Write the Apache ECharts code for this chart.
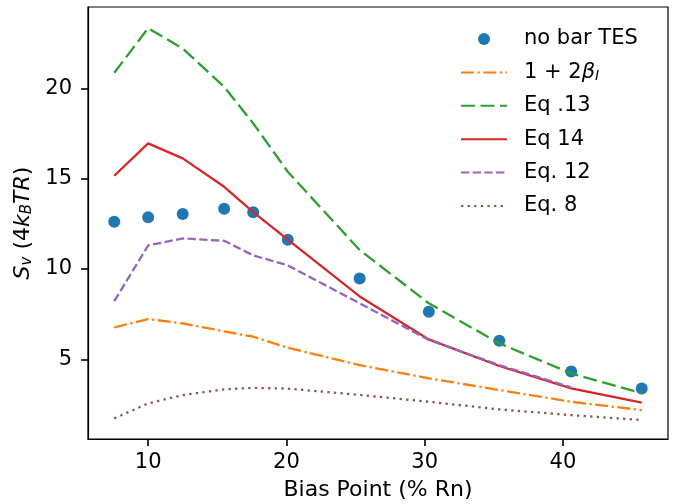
<!DOCTYPE html>
<html><head><meta charset="utf-8">
<script src="https://cdn.jsdelivr.net/npm/echarts@6/dist/echarts.min.js"></script>
<style>html,body{margin:0;padding:0;background:#fff}#c{width:678px;height:504px}</style>
</head><body><div id="c"></div>
<script>
const xBias = [7.55, 10.0, 12.5, 15.5, 17.6, 20.1, 25.3, 30.3, 35.4, 40.6, 45.7];
const noBarTES = [12.61, 12.86, 13.04, 13.33, 13.14, 11.62, 9.47, 7.63, 6.03, 4.33, 3.39];
const onePlus2Beta = [6.77, 7.23, 6.99, 6.55, 6.25, 5.64, 4.68, 3.95, 3.3, 2.65, 2.19];
const eq13 = [20.86, 23.33, 22.2, 20.08, 18.06, 15.38, 11.05, 8.1, 5.88, 4.22, 3.12];
const eq14 = [15.16, 16.95, 16.12, 14.55, 13.15, 11.62, 8.48, 6.1, 4.63, 3.39, 2.6];
const eq12 = [8.22, 11.3, 11.69, 11.56, 10.75, 10.2, 8.1, 6.07, 4.68, 3.45];
const eq8 = [1.73, 2.56, 3.02, 3.34, 3.42, 3.38, 3.03, 2.65, 2.23, 1.91, 1.64];
const xTicks = [10, 20, 30, 40];
const yTicks = [5, 10, 15, 20];
const seriesNames = ['no bar TES', '1 + 2βI', 'Eq .13', 'Eq 14', 'Eq. 12', 'Eq. 8'];

const pairs = (ys) => ys.map((y, i) => [xBias[i], y]);
const FONT = 'DejaVu Sans';
const chart = echarts.init(document.getElementById('c'), null, {renderer: 'canvas'});
const LW = 2.3;
const lineSeries = (name, ys, color, type) => ({
  name, type: 'line', data: pairs(ys), symbol: 'none', z: 3,
  lineStyle: {color, width: LW, type, cap: 'butt'}, itemStyle: {color}
});
chart.setOption({
  animation: false,
  backgroundColor: '#fff',
  grid: {left: 88, right: 10, top: 7, bottom: 65, containLabel: false, outerBoundsMode: 'none',
    show: true, borderColor: '#000', borderWidth: 1.2, backgroundColor: 'transparent'},
  xAxis: {
    type: 'value', min: 5.65, max: 47.6,
    name: 'Bias Point (% Rn)', nameLocation: 'middle', nameGap: 40,
    nameTextStyle: {fontFamily: FONT, fontSize: 22, color: '#000'},
    axisLine: {show: true, onZero: false, lineStyle: {color: '#000', width: 1.2}},
    axisTick: {show: true, customValues: xTicks, length: 7, lineStyle: {color: '#000', width: 1.6}},
    axisLabel: {customValues: xTicks, fontFamily: FONT, fontSize: 21, color: '#000', margin: 13},
    splitLine: {show: false}
  },
  yAxis: {
    type: 'value', min: 0.59, max: 24.5,
    name: '{it|S}{sub|v} (4{it|k}{sub|B}{it|TR})', nameLocation: 'middle', nameGap: 52,
    nameTextStyle: {fontFamily: FONT, fontSize: 22, color: '#000',
      rich: {
        it: {fontFamily: FONT, fontSize: 22, fontStyle: 'italic', color: '#000'},
        sub: {fontFamily: FONT, fontSize: 15, fontStyle: 'italic', color: '#000', verticalAlign: 'bottom', padding: [6, 0, 0, 0]}
      }},
    axisLine: {show: true, onZero: false, lineStyle: {color: '#000', width: 1.2}},
    axisTick: {show: true, customValues: yTicks, length: 7, lineStyle: {color: '#000', width: 1.6}},
    axisLabel: {customValues: yTicks, fontFamily: FONT, fontSize: 21, color: '#000', margin: 16},
    splitLine: {show: false}
  },
  legend: {
    orient: 'vertical', left: 460, top: 28, padding: 0,
    itemWidth: 46, itemHeight: 12, itemGap: 11.4,
    data: seriesNames.map((n, i) => i === 0 ? {name: n} : {name: n, itemStyle: {opacity: 0}}),
    formatter: (n) => n === '1 + 2βI' ? '1 + 2{it|β}{sub|I}' : n,
    textStyle: {fontFamily: FONT, fontSize: 21, color: '#000', lineHeight: 22, padding: [0, 0, 0, 12],
      rich: {
        it: {fontFamily: FONT, fontSize: 21, fontStyle: 'italic', color: '#000', lineHeight: 22},
        sub: {fontFamily: FONT, fontSize: 14, fontStyle: 'italic', color: '#000', verticalAlign: 'bottom', lineHeight: 22, padding: [8, 0, 0, 0]}
      }}
  },
  series: [
    {name: seriesNames[0], type: 'scatter', data: pairs(noBarTES), symbol: 'circle', symbolSize: 12, z: 2,
      itemStyle: {color: '#1f77b4', opacity: 1}},
    lineSeries(seriesNames[1], onePlus2Beta, '#ff7f0e', [13, 3.5, 2.3, 3.5]),
    lineSeries(seriesNames[2], eq13, '#2ca02c', [14, 5.5]),
    lineSeries(seriesNames[3], eq14, '#d62728', 'solid'),
    lineSeries(seriesNames[4], eq12, '#9467bd', [8.3, 3.4]),
    lineSeries(seriesNames[5], eq8, '#8c564b', [2.3, 4.3])
  ]
});
</script></body></html>
